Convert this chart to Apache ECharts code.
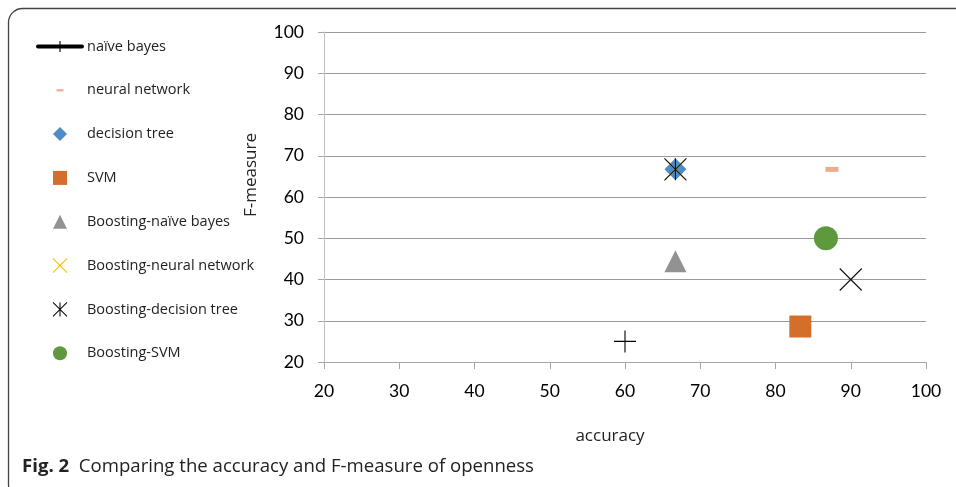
<!DOCTYPE html>
<html>
<head>
<meta charset="utf-8">
<script src="https://cdn.jsdelivr.net/npm/echarts@6/dist/echarts.min.js"></script>
<style>
  html, body { margin: 0; padding: 0; background: #fff; }
  #chart { width: 956px; height: 487px; }
</style>
</head>
<body>
<div id="chart"></div>
<script>
// Accuracy (x) and F-measure (y) per classifier, openness trait
const seriesNames = [
  'naïve bayes', 'neural network', 'decision tree', 'SVM',
  'Boosting-naïve bayes', 'Boosting-neural network', 'Boosting-decision tree', 'Boosting-SVM'
];
const naiveBayes = [[60, 25]];
const neuralNetwork = [[87.5, 66.7]];
const decisionTree = [[66.7, 66.7]];
const svm = [[83.3, 28.6]];
const boostingNaiveBayes = [[66.7, 44.4]];
const boostingNeuralNetwork = [[66.7, 66.7]];
const boostingDecisionTree = [[66.7, 66.7], [90, 40]];
const boostingSvm = [[86.7, 50]];

const axisTicks = [20, 30, 40, 50, 60, 70, 80, 90, 100];
const axisMin = axisTicks[0];
const axisMax = axisTicks[axisTicks.length - 1];
const axisStep = axisTicks[1] - axisTicks[0];

const xTitle = 'accuracy';
const yTitle = 'F-measure';
const captionBold = 'Fig. 2';
const captionText = 'Comparing the accuracy and F-measure of openness';

// marker shapes
const PLUS = 'path://M0 5L10 5M5 0L5 10';
const CROSS = 'path://M0 0L10 10M10 0L0 10';
const ASTERISK = 'path://M0 0L10 10M10 0L0 10M5 0L5 10';
const DIAMOND = 'path://M5 0L10 5L5 10L0 5Z';
const SQUARE = 'path://M0 0L10 0L10 10L0 10Z';
const TRIANGLE = 'path://M5 0L10 10L0 10Z';
const DASH_ICON = 'path://M0 0L0 0M20 20L20 20M5 8.5L15 8.5L15 11.5L5 11.5Z';

const chart = echarts.init(document.getElementById('chart'), null, { renderer: 'canvas' });

const strokeStyle = (c) => ({ color: c, borderColor: c, borderWidth: 1.1, opacity: 1 });
const fillStyle = (c) => ({ color: c, opacity: 1 });

chart.setOption({
  animation: false,
  backgroundColor: '#fff',
  grid: { left: 324, right: 30, top: 32, bottom: 125, containLabel: false },
  legend: {
    orient: 'vertical',
    left: 36,
    top: 39,
    padding: 0,
    itemWidth: 44,
    itemHeight: 14,
    itemGap: 28.8,
    selectedMode: false,
    textStyle: { fontFamily: 'Open Sans', fontSize: 14.5, color: '#222' },
    itemStyle: { borderWidth: 'inherit' },
    lineStyle: { width: 4, cap: 'round' },
    data: [
      { name: seriesNames[0] },
      { name: seriesNames[1], icon: DASH_ICON },
      { name: seriesNames[2] },
      { name: seriesNames[3] },
      { name: seriesNames[4] },
      { name: seriesNames[5] },
      { name: seriesNames[6] },
      { name: seriesNames[7] }
    ]
  },
  xAxis: {
    type: 'value',
    min: axisMin, max: axisMax, interval: axisStep,
    name: xTitle,
    nameLocation: 'middle',
    nameGap: 66,
    nameTextStyle: { fontFamily: 'Open Sans', fontSize: 17, color: '#222', padding: [0, 30, 0, 0] },
    axisLine: { show: true, lineStyle: { color: '#a6a6a6', width: 1 } },
    axisTick: { show: true, length: 7, lineStyle: { color: '#a6a6a6' } },
    axisLabel: { fontFamily: 'Lato', fontSize: 17.5, color: '#000', margin: 20 },
    splitLine: { show: false }
  },
  yAxis: {
    type: 'value',
    min: axisMin, max: axisMax, interval: axisStep,
    name: yTitle,
    nameLocation: 'middle',
    nameGap: 64,
    nameRotate: 90,
    nameTextStyle: { fontFamily: 'Open Sans', fontSize: 17, color: '#222', padding: [0, 0, 0, 44] },
    axisLine: { show: true, lineStyle: { color: '#bfbfbf', width: 1 } },
    axisTick: { show: true, length: 6, lineStyle: { color: '#a6a6a6' } },
    axisLabel: { fontFamily: 'Lato', fontSize: 17.5, color: '#000', margin: 20 },
    splitLine: { show: true, lineStyle: { color: '#9a9a9a', width: 1 } }
  },
  graphic: [
    {
      type: 'rect',
      silent: true,
      z: -1,
      shape: { x: 8.5, y: 8.5, width: 1000, height: 490, r: 14 },
      style: { fill: 'none', stroke: '#444', lineWidth: 1.3 }
    },
    {
      type: 'text',
      left: 22,
      top: 457,
      silent: true,
      style: {
        text: '{b|' + captionBold + '}  ' + captionText,
        fontFamily: 'Open Sans',
        fontSize: 18.6,
        fill: '#222',
        rich: { b: { fontFamily: 'Open Sans', fontSize: 18.6, fontWeight: 'bold', fill: '#222' } }
      }
    }
  ],
  series: [
    {
      name: seriesNames[0], type: 'line', data: naiveBayes,
      symbol: PLUS, symbolSize: 22, showSymbol: true,
      lineStyle: { color: '#000', width: 4, cap: 'round' },
      itemStyle: strokeStyle('#000'), z: 5
    },
    {
      name: seriesNames[1], type: 'scatter', data: neuralNetwork,
      symbol: 'rect', symbolSize: [13, 5],
      itemStyle: fillStyle('#F2A98A')
    },
    {
      name: seriesNames[2], type: 'scatter', data: decisionTree,
      symbol: DIAMOND, symbolSize: 22,
      itemStyle: fillStyle('#4F8BC9')
    },
    {
      name: seriesNames[3], type: 'scatter', data: svm,
      symbol: SQUARE, symbolSize: 22,
      itemStyle: fillStyle('#D46E2B')
    },
    {
      name: seriesNames[4], type: 'scatter', data: boostingNaiveBayes,
      symbol: TRIANGLE, symbolSize: 22,
      itemStyle: fillStyle('#929292')
    },
    {
      name: seriesNames[5], type: 'scatter', data: boostingNeuralNetwork,
      symbol: CROSS, symbolSize: 20,
      itemStyle: strokeStyle('#FFC000')
    },
    {
      name: seriesNames[6], type: 'scatter',
      data: boostingDecisionTree.map((p, i) => i === 0 ? { value: p } : { value: p, symbol: CROSS }),
      symbol: ASTERISK, symbolSize: 22,
      itemStyle: strokeStyle('#111'), z: 6
    },
    {
      name: seriesNames[7], type: 'scatter', data: boostingSvm,
      symbol: 'circle', symbolSize: 24,
      itemStyle: fillStyle('#5F993D')
    }
  ]
});
</script>
</body>
</html>
